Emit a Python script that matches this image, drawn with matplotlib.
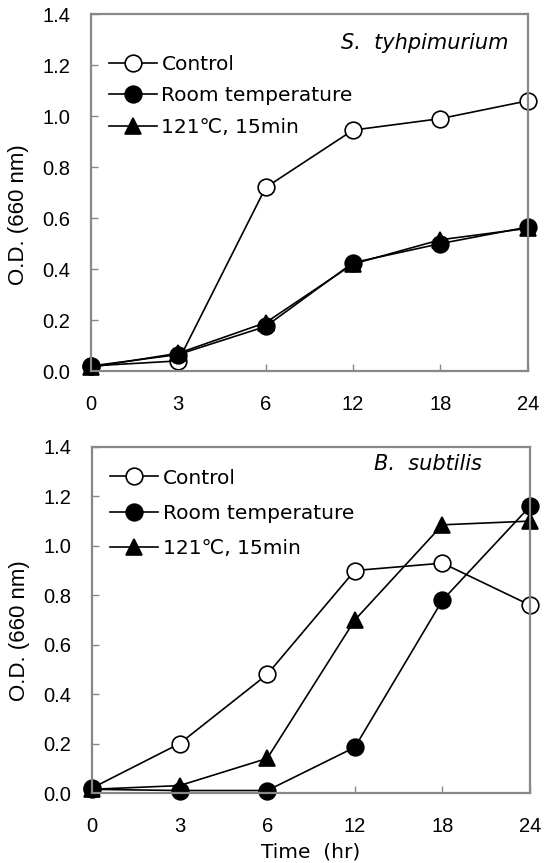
import matplotlib
matplotlib.use("Agg")
import matplotlib.pyplot as plt

plt.rcParams['font.family'] = ['Liberation Sans', 'DejaVu Sans']

time_labels = ["0", "3", "6", "12", "18", "24"]
series_names = ["Control", "Room temperature", "121\u2103, 15min"]

st_control = [0.02, 0.04, 0.72, 0.945, 0.99, 1.06]
st_room = [0.02, 0.065, 0.175, 0.425, 0.50, 0.565]
st_121 = [0.015, 0.07, 0.19, 0.42, 0.515, 0.56]

bs_control = [0.02, 0.20, 0.48, 0.90, 0.93, 0.76]
bs_room = [0.015, 0.01, 0.01, 0.185, 0.78, 1.16]
bs_121 = [0.015, 0.03, 0.14, 0.70, 1.085, 1.10]

yticks = [0.0, 0.2, 0.4, 0.6, 0.8, 1.0, 1.2, 1.4]

fig = plt.figure(figsize=(5.51, 8.63), dpi=100)
ax1 = fig.add_axes([0.165, 0.570, 0.793, 0.4137])
ax2 = fig.add_axes([0.167, 0.0811, 0.795, 0.401])

styles = [dict(marker='o', mfc='white', mec='black', ms=12, mew=1.2),
          dict(marker='o', mfc='black', mec='black', ms=12, mew=1.2),
          dict(marker='^', mfc='black', mec='black', ms=12, mew=1.2)]

def draw(ax, data, species, sp_pos, leg_y, ylab_y, labsp):
    x = list(range(len(time_labels)))
    for vals, name, st in zip(data, series_names, styles):
        ax.plot(x, vals, color='black', lw=1.2, label=name, clip_on=False, **st)
    ax.set_xlim(0, len(time_labels) - 1)
    ax.set_ylim(0, 1.4)
    ax.set_xticks(x)
    ax.set_xticklabels(time_labels)
    ax.set_yticks(yticks)
    ax.set_yticklabels([f"{v:.1f}" for v in yticks])
    ax.tick_params(direction='in', length=5, width=1, color='#888888',
                   labelsize=14.5)
    ax.tick_params(axis='y', pad=15)
    ax.tick_params(axis='x', pad=17)
    for sp in ax.spines.values():
        sp.set_color('#888888')
        sp.set_linewidth(1.6)
    ax.set_ylabel("O.D. (660 nm)", fontsize=16)
    ax.yaxis.set_label_coords(-0.142, ylab_y)
    leg = ax.legend(loc='upper left', bbox_to_anchor=(0.0, leg_y), frameon=False,
                    fontsize=14.5, handlelength=2.4, handletextpad=0.2,
                    labelspacing=labsp, borderaxespad=0.5)
    for t in leg.get_texts():
        t.set_family(['DejaVu Sans'])
    ax.text(sp_pos[0], sp_pos[1], species, transform=ax.transAxes, ha='right', va='center',
            fontsize=15, style='italic', family=['DejaVu Sans'])

draw(ax1, [st_control, st_room, st_121], "S.  tyhpimurium", (0.956, 0.92), 0.935, 0.437, 0.6)
draw(ax2, [bs_control, bs_room, bs_121], "B.  subtilis", (0.89, 0.951), 0.99, 0.468, 0.8)
ax2.set_xlabel("Time  (hr)", fontsize=14.5, labelpad=5, family=['DejaVu Sans'])

fig.savefig("out.png", dpi=100)
